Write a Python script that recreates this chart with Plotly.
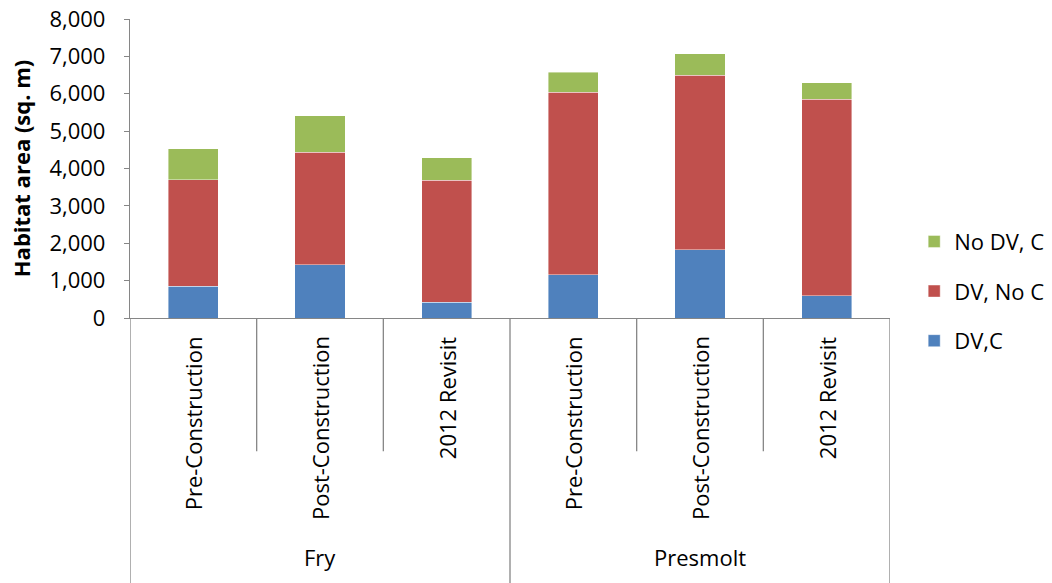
import plotly.graph_objects as go

# Habitat area by life stage and survey period
groups = ["Fry", "Fry", "Fry", "Presmolt", "Presmolt", "Presmolt"]
stages = ["Pre-Construction", "Post-Construction", "2012 Revisit",
          "Pre-Construction", "Post-Construction", "2012 Revisit"]
dv_c = [850, 1420, 420, 1155, 1830, 600]
dv_no_c = [2845, 3013, 3265, 4882, 4662, 5250]
no_dv_c = [829, 977, 598, 535, 580, 439]
y_ticks = [0, 1000, 2000, 3000, 4000, 5000, 6000, 7000, 8000]

keys = [f"{g}|{s}" for g, s in zip(groups, stages)]

FONT = "Open Sans, Lato, sans-serif"
AXIS_GREY = "#868686"

fig = go.Figure()
# Stacked bottom-to-top; legend lists the top segment first
series = [
    ("DV,C", dv_c, "#4F81BD", 3),
    ("DV, No C", dv_no_c, "#C0504D", 2),
    ("No DV, C", no_dv_c, "#9BBB59", 1),
]
for name, vals, color, rank in series:
    fig.add_trace(go.Bar(
        x=keys, y=vals, name=name, legendgroup=name, legendrank=rank,
        marker=dict(color=color, line=dict(width=0.6, color="rgba(255,255,255,0.7)")),
    ))

# Inner category labels (rotated) and group labels beneath the axis
annotations = []
for i, s in enumerate(stages):
    annotations.append(dict(
        x=i, y=0, xref="x", yref="paper", text=s, textangle=-90,
        showarrow=False, xanchor="center", yanchor="top", yshift=-16,
        font=dict(family=FONT, size=22, color="#000000"),
    ))
group_names = []
for g in groups:
    if g not in group_names:
        group_names.append(g)
for gi, g in enumerate(group_names):
    idx = [i for i, gg in enumerate(groups) if gg == g]
    annotations.append(dict(
        x=sum(idx) / len(idx), y=-0.80, xref="x", yref="paper", text=g,
        showarrow=False, xanchor="center", yanchor="middle",
        font=dict(family=FONT, size=22, color="#000000"),
    ))

# Category dividers: short ones between stages, long ones between groups
shapes = []
n = len(keys)
for b in range(n + 1):
    pos = b - 0.5
    is_group_edge = b == 0 or b == n or groups[b - 1] != groups[b]
    shapes.append(dict(
        type="line", xref="x", yref="paper", x0=pos, x1=pos,
        y0=0, y1=-0.89 if is_group_edge else -0.446,
        line=dict(color=AXIS_GREY, width=1.3),
    ))

fig.update_layout(
    width=1052, height=583,
    barmode="stack", bargap=0.605,
    plot_bgcolor="white", paper_bgcolor="white",
    margin=dict(l=130, r=162, t=19, b=265, autoexpand=False),
    font=dict(family=FONT, size=22, color="#000000"),
    xaxis=dict(
        range=[-0.5, n - 0.5], showticklabels=False, ticks="",
        showline=True, linecolor=AXIS_GREY, linewidth=1.3, showgrid=False,
        zeroline=False,
    ),
    yaxis=dict(
        range=[0, 8000], tickvals=y_ticks, tickformat=",",
        ticks="outside", ticklen=5, tickcolor=AXIS_GREY, tickwidth=1.3,
        ticklabelstandoff=14,
        showline=True, linecolor=AXIS_GREY, linewidth=1.3, showgrid=False,
        zeroline=False,
        tickfont=dict(family=FONT, size=22, color="#000000"),
        title=dict(text="<b>Habitat area (sq. m)</b>", standoff=12,
                   font=dict(family=FONT, size=22, color="#000000")),
    ),
    legend=dict(
        xref="container", yref="container",
        x=0.869, xanchor="left", y=0.6215, yanchor="top",
        traceorder="grouped", tracegroupgap=18,
        font=dict(family=FONT, size=22, color="#000000"),
        bgcolor="rgba(0,0,0,0)",
    ),
    annotations=annotations,
    shapes=shapes,
)

fig.write_html("out.html")
